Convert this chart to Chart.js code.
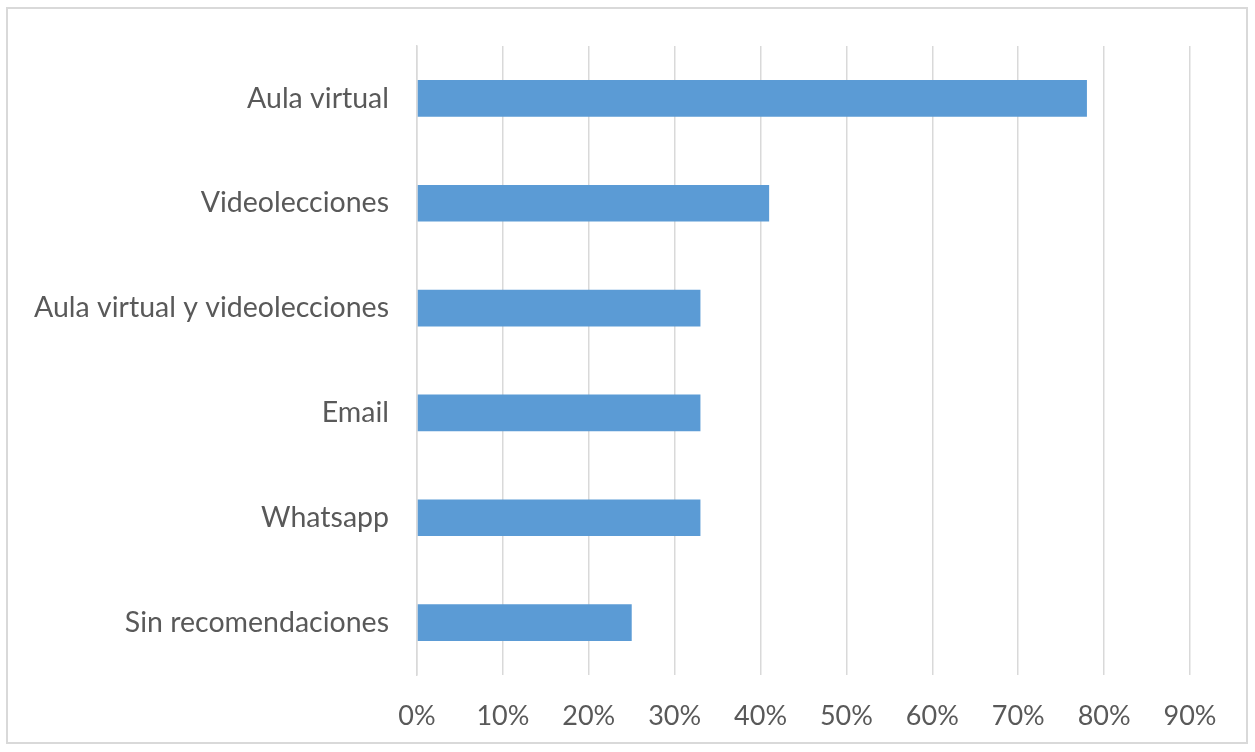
<!DOCTYPE html>
<html>
<head>
<meta charset="utf-8">
<script src="https://cdn.jsdelivr.net/npm/chart.js@4"></script>
<style>
html,body{margin:0;padding:0;background:#fff;}
#wrap{position:relative;width:1255px;height:752px;}
#frame{position:absolute;left:6px;top:7px;width:1242px;height:737px;border:2px solid #d9d9d9;box-sizing:border-box;pointer-events:none;}
</style>
</head>
<body>
<div id="wrap">
<canvas id="c" width="1255" height="752"></canvas>
<div id="frame"></div>
</div>
<script>
const categories = ["Aula virtual","Videolecciones","Aula virtual y videolecciones","Email","Whatsapp","Sin recomendaciones"];
const values = [78, 41, 33, 33, 33, 25];
const tickValues = [0,10,20,30,40,50,60,70,80,90];

const FONT = "Lato, 'Open Sans', sans-serif";
new Chart(document.getElementById('c'), {
  type: 'bar',
  data: {
    labels: categories,
    datasets: [{
      data: values,
      backgroundColor: '#5B9BD5',
      borderWidth: 0,
      barPercentage: 0.35,
      categoryPercentage: 1.0
    }]
  },
  options: {
    indexAxis: 'y',
    responsive: false,
    animation: false,
    layout: { padding: { top: 46, right: 65, bottom: 0, left: 0 } },
    plugins: { legend: { display: false }, tooltip: { enabled: false } },
    scales: {
      x: {
        min: 0, max: 90,
        afterBuildTicks: (s) => { s.ticks = tickValues.map(v => ({value: v})); },
        afterFit: (s) => { s.height = 77; },
        grid: { color: '#d9d9d9', lineWidth: 1.5, drawTicks: false },
        border: { display: false },
        ticks: {
          padding: 25,
          color: '#595959',
          font: { family: FONT, size: 27 },
          callback: (v) => v + '%'
        }
      },
      y: {
        afterFit: (s) => { s.width = 417; },
        grid: { display: false, drawTicks: false },
        border: { display: true, color: '#d9d9d9', width: 1.5 },
        ticks: {
          padding: 28,
          color: '#595959',
          font: { family: FONT, size: 28.5 }
        }
      }
    }
  }
});
</script>
</body>
</html>
